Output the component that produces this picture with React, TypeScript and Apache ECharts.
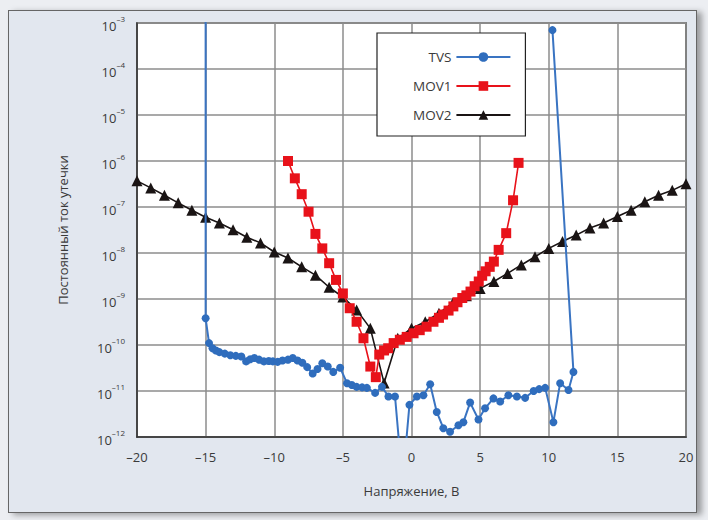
import React, { useEffect, useRef } from "react";
import * as echarts from "echarts";

// ---- data ----
const seriesNames = ["TVS", "MOV1", "MOV2"];

const tvsVolts = [
  -15.0, -15.0, -14.75, -14.5, -14.25, -14.0, -13.6, -13.2, -12.8, -12.4, -12.05, -11.75, -11.45,
  -11.1, -10.75, -10.4, -10.1, -9.75, -9.4, -9.0, -8.65, -8.3, -7.95, -7.6, -7.2, -6.85, -6.5,
  -6.1, -5.7, -5.2, -4.7, -4.35, -4.0, -3.6, -3.25, -2.65, -2.15, -1.68, -1.2, -0.65, -0.15,
  0.39, 0.87, 1.36, 1.84, 2.32, 2.81, 3.42, 3.78, 4.27, 4.88, 5.36, 5.97, 6.46, 7.06, 7.68,
  8.28, 8.9, 9.3, 9.74, 10.34, 10.83, 11.44, 11.8, 10.27,
];
const tvsCurrent = [
  1e-2, 3.8e-10, 1.1e-10, 8.5e-11, 7.6e-11, 7.0e-11, 6.5e-11, 6.0e-11, 5.8e-11, 5.6e-11, 4.4e-11,
  4.9e-11, 5.2e-11, 4.8e-11, 4.4e-11, 4.5e-11, 4.4e-11, 4.3e-11, 4.6e-11, 4.8e-11, 5.2e-11,
  4.6e-11, 4.1e-11, 3.3e-11, 2.4e-11, 3.0e-11, 4.0e-11, 3.4e-11, 2.6e-11, 3.2e-11, 1.48e-11,
  1.35e-11, 1.23e-11, 1.2e-11, 1.17e-11, 9.1e-12, 1.23e-11, 7.6e-12, 7.6e-12, 1e-13, 5.0e-12,
  7.6e-12, 8.1e-12, 1.4e-11, 3.5e-12, 1.55e-12, 1.3e-12, 1.8e-12, 2.1e-12, 5.6e-12, 2.4e-12,
  4.2e-12, 6.9e-12, 5.9e-12, 8.1e-12, 7.6e-12, 7.1e-12, 1.0e-11, 1.1e-11, 1.17e-11, 2.1e-12,
  1.48e-11, 1.05e-11, 2.6e-11, 7e-4,
];

const mov1Volts = [
  -9.0, -8.5, -8.0, -7.5, -7.0, -6.5, -6.0, -5.5, -5.0, -4.5, -4.0, -3.5, -3.0, -2.6, -2.35,
  -2.0, -1.7, -1.3, -0.85, -0.35, 0.15, 0.6, 1.1, 1.6, 2.0, 2.3, 2.7, 3.05, 3.35, 3.7, 4.0,
  4.3, 4.6, 4.9, 5.15, 5.4, 5.7, 6.0, 6.35, 6.9, 7.4, 7.8,
];
const mov1Current = [
  1.0e-6, 4.2e-7, 1.9e-7, 7.9e-8, 2.6e-8, 1.26e-8, 6.0e-9, 2.6e-9, 1.32e-9, 6.3e-10, 3.2e-10,
  1.4e-10, 3.4e-11, 2.0e-11, 6.2e-11, 7.6e-11, 8.5e-11, 1.1e-10, 1.3e-10, 1.5e-10, 1.8e-10,
  2.1e-10, 2.5e-10, 3.2e-10, 3.9e-10, 4.6e-10, 5.6e-10, 6.9e-10, 8.5e-10, 1.05e-9, 1.2e-9,
  1.45e-9, 1.9e-9, 2.4e-9, 3.2e-9, 4.0e-9, 5.0e-9, 6.5e-9, 1.17e-8, 2.7e-8, 1.4e-7, 9.1e-7,
];

const mov2Volts = [
  -20, -19, -18, -17, -16, -15, -14, -13, -12, -11, -10, -9, -8, -7, -6, -5, -4, -3, -2, -1,
  0, 1, 2, 3, 4, 5, 6, 7, 8, 9, 10, 11, 12, 13, 14, 15, 16, 17, 18, 19, 20,
];
const mov2Current = [
  3.7e-7, 2.6e-7, 1.8e-7, 1.23e-7, 8.5e-8, 6.0e-8, 4.5e-8, 3.2e-8, 2.2e-8, 1.66e-8, 1.05e-8,
  7.8e-9, 5.0e-9, 3.3e-9, 1.8e-9, 1.1e-9, 5.8e-10, 2.3e-10, 1.5e-11, 1.4e-10, 2.3e-10, 3.2e-10,
  4.9e-10, 8.1e-10, 1.17e-9, 1.7e-9, 2.4e-9, 3.6e-9, 5.5e-9, 8.3e-9, 1.26e-8, 1.78e-8, 2.45e-8,
  3.5e-8, 4.5e-8, 6.2e-8, 8.5e-8, 1.3e-7, 1.8e-7, 2.3e-7, 3.2e-7,
];

const xMin = -20;
const xMax = 20;
const xStep = 5;
const yMin = 1e-12;
const yMax = 1e-3;

const xAxisTitle = "Напряжение, В";
const yAxisTitle = "Постоянный ток утечки";

const zip = (xs: number[], ys: number[]) => xs.map((x, i) => [x, ys[i]]);

const FONT = "'Open Sans', 'Noto Sans', sans-serif";
const TEXT = "#3a3a3a";

export default function App() {
  const ref = useRef<HTMLDivElement>(null);

  useEffect(() => {
    document.body.style.margin = "0";
    if (!ref.current) return;
    const chart = echarts.init(ref.current, undefined, { renderer: "svg" });
    const gridColor = "#8c8c8c";
    chart.setOption({
      animation: false,
      textStyle: { fontFamily: FONT },
      grid: {
        left: 137,
        top: 23,
        right: 22,
        bottom: 83,
        show: true,
        backgroundColor: "#ffffff",
        borderColor: "#333333",
        borderWidth: 1.5,
      },
      legend: {
        data: seriesNames,
        orient: "vertical",
        left: 377,
        top: 33,
        align: "right",
        itemWidth: 54,
        itemHeight: 12,
        itemGap: 15,
        padding: [17, 14, 14, 36],
        backgroundColor: "#ffffff",
        borderColor: "#222222",
        borderWidth: 1.2,
        borderRadius: 0,
        textStyle: { fontFamily: FONT, fontSize: 13.5, color: TEXT },
      },
      xAxis: {
        type: "value",
        min: xMin,
        max: xMax,
        interval: xStep,
        name: xAxisTitle,
        nameLocation: "middle",
        nameGap: 47,
        nameTextStyle: { fontFamily: FONT, fontSize: 13, color: TEXT },
        axisLine: { show: true, onZero: false, lineStyle: { color: "#333333", width: 1.5 } },
        axisTick: { show: false },
        axisLabel: {
          margin: 13,
          fontFamily: FONT,
          fontSize: 13,
          color: TEXT,
          formatter: (v: number) => (v < 0 ? "\u2013" + Math.abs(v) : String(v)),
        },
        splitLine: { show: true, lineStyle: { color: gridColor, width: 1.5 } },
      },
      yAxis: {
        type: "log",
        logBase: 10,
        min: yMin,
        max: yMax,
        interval: 1,
        name: yAxisTitle,
        nameLocation: "middle",
        nameRotate: 90,
        nameGap: 68,
        nameTextStyle: { fontFamily: FONT, fontSize: 13, color: TEXT },
        axisLine: { show: true, onZero: false, lineStyle: { color: "#333333", width: 1.5 } },
        axisTick: { show: false },
        axisLabel: {
          margin: 12,
          formatter: (v: number) => {
            const e = Math.round(Math.log10(v));
            return "{b|10}{s|" + "\u2013" + Math.abs(e) + "}";
          },
          rich: {
            b: { fontFamily: FONT, fontSize: 13, color: TEXT, lineHeight: 18, verticalAlign: "bottom" },
            s: { fontFamily: FONT, fontSize: 8, color: TEXT, lineHeight: 18, verticalAlign: "top", padding: [0, 0, 8, 0] },
          },
        },
        splitLine: { show: true, lineStyle: { color: gridColor, width: 1.5 } },
      },
      series: [
        {
          name: "MOV2",
          type: "line",
          data: zip(mov2Volts, mov2Current),
          symbol: "triangle",
          symbolSize: 11,
          color: "#1a1414",
          lineStyle: { width: 1.6, color: "#1a1414" },
          itemStyle: { color: "#1a1414" },
          z: 2,
        },
        {
          name: "TVS",
          type: "line",
          data: zip(tvsVolts, tvsCurrent),
          symbol: "circle",
          symbolSize: 8,
          color: "#2f6dbd",
          lineStyle: { width: 2, color: "#3a74c2" },
          itemStyle: { color: "#2f6dbd" },
          z: 3,
        },
        {
          name: "MOV1",
          type: "line",
          data: zip(mov1Volts, mov1Current),
          symbol: "rect",
          symbolSize: 10,
          color: "#e8121a",
          lineStyle: { width: 1.6, color: "#e8121a" },
          itemStyle: { color: "#e8121a" },
          z: 4,
        },
      ],
    });
    return () => chart.dispose();
  }, []);

  return (
    <div style={{ position: "fixed", left: 0, top: 0, width: 708, height: 520, background: "#eceef2", overflow: "hidden" }}>
      <div
        style={{
          position: "absolute",
          left: 8,
          top: 10,
          width: 687,
          height: 501,
          background: "#e2e7ef",
          border: "1.5px solid #666",
          boxShadow: "5px 2px 6px rgba(0,0,0,0.35)",
        }}
      />
      <div ref={ref} style={{ position: "absolute", left: 0, top: 0, width: 708, height: 520 }} />
    </div>
  );
}
